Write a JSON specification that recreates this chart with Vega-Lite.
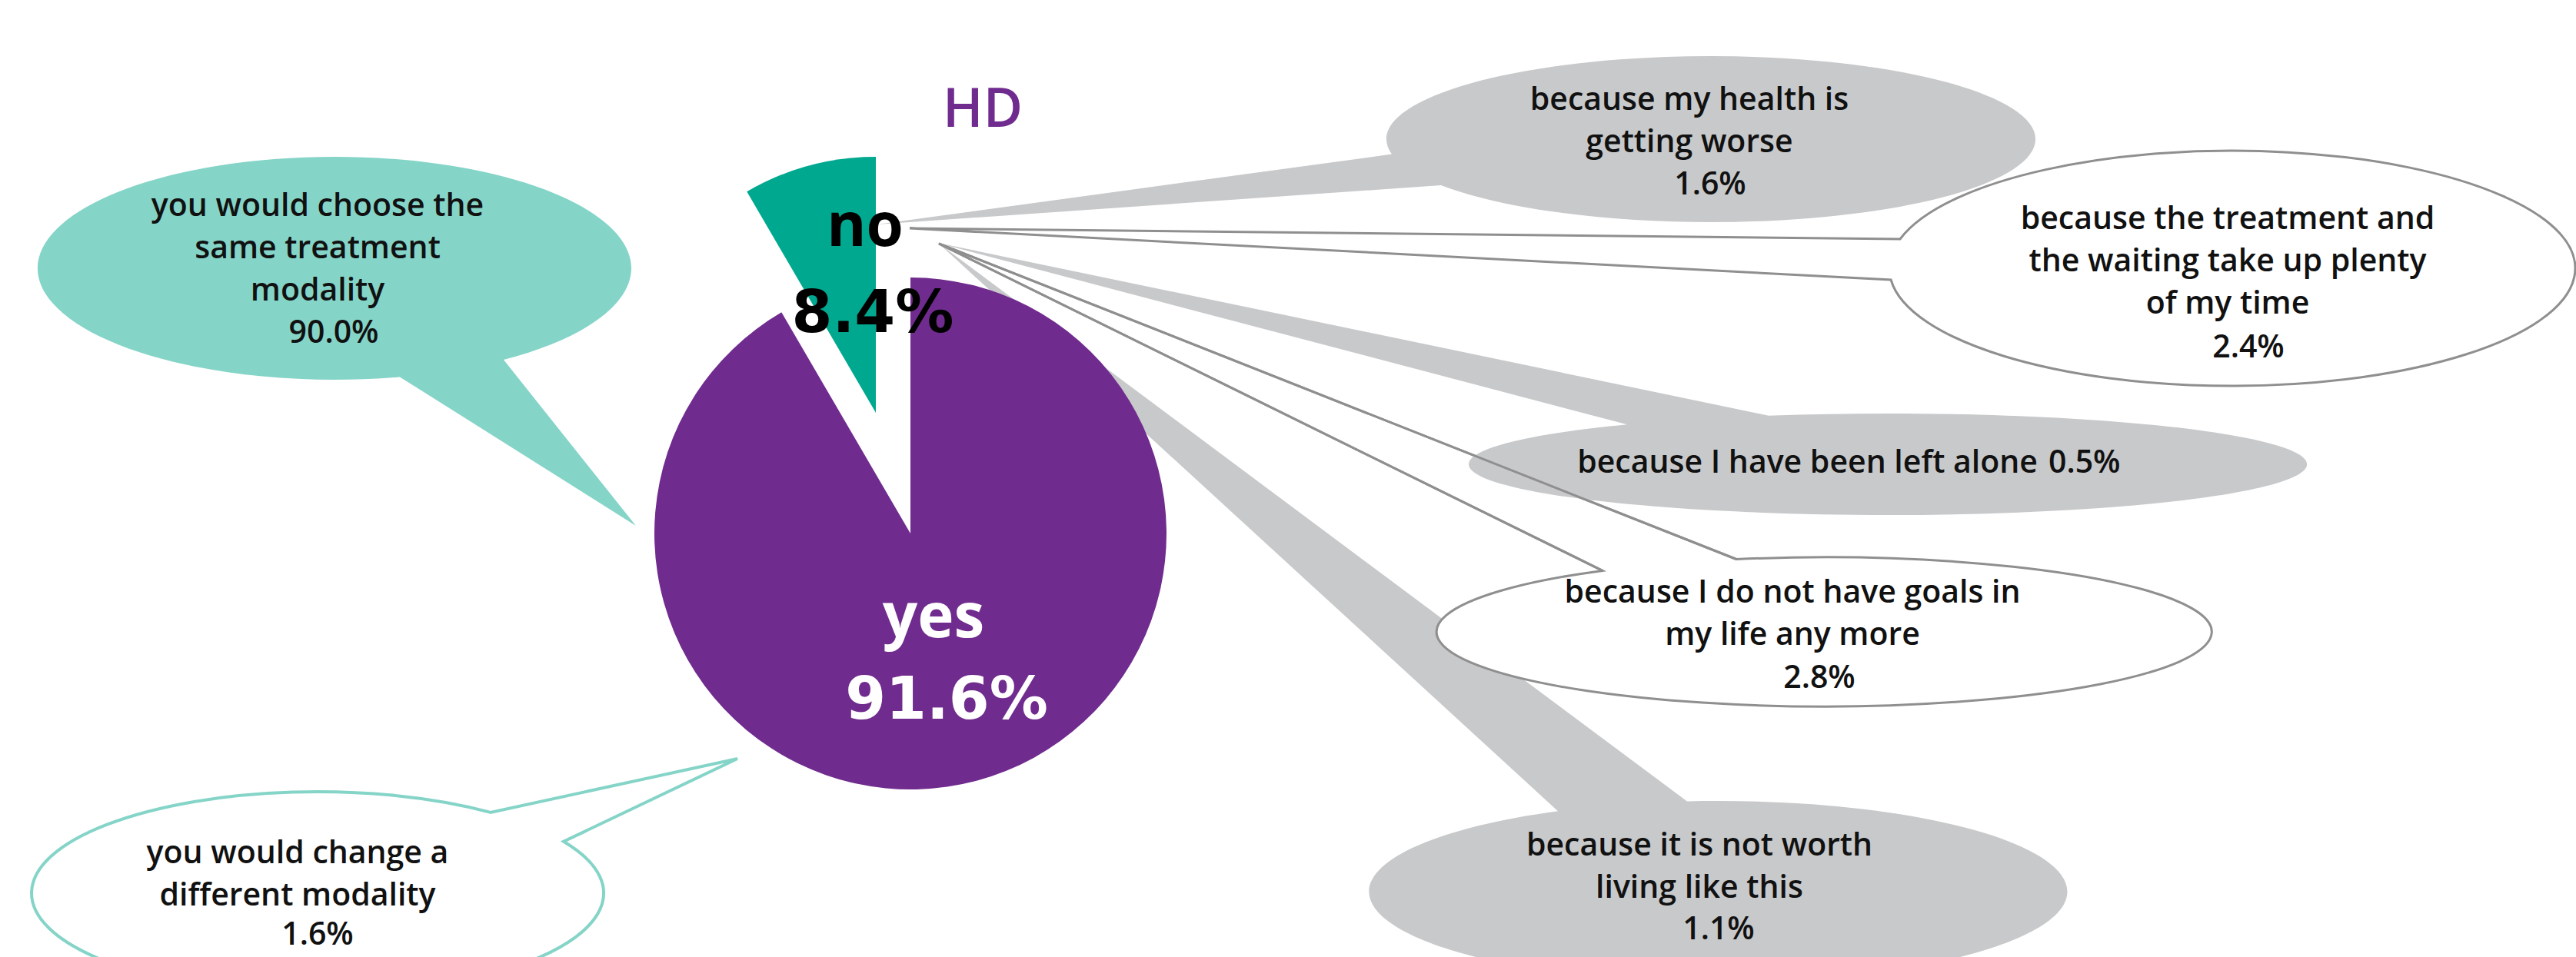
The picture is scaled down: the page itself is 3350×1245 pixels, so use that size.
{
  "$schema": "https://vega.github.io/schema/vega-lite/v6.json",
  "width": 3350,
  "height": 1245,
  "autosize": "none",
  "padding": 0,
  "background": "white",
  "config": {
    "view": {"stroke": null},
    "text": {"font": "Open Sans", "fontWeight": 600, "fontSize": 41, "lineHeight": 55, "align": "center", "baseline": "middle", "color": "#111111", "lineBreak": "\n"}
  },
  "datasets": {
    "answers": [
      {"answer": "yes", "share": 0.916},
      {"answer": "no", "share": 0.084}
    ],
    "reasons": [
      {"answer": "yes", "reason": "you would choose the\nsame treatment\nmodality", "share": 0.900},
      {"answer": "yes", "reason": "you would change a\ndifferent modality", "share": 0.016},
      {"answer": "no", "reason": "because my health is\ngetting worse", "share": 0.016},
      {"answer": "no", "reason": "because the treatment and\nthe waiting take up plenty\nof my time", "share": 0.024},
      {"answer": "no", "reason": "because I have been left alone", "share": 0.005},
      {"answer": "no", "reason": "because I do not have goals in\nmy life any more", "share": 0.028},
      {"answer": "no", "reason": "because it is not worth\nliving like this", "share": 0.011}
    ],
    "panel": [{"modality": "HD"}]
  },
  "layer": [
    {
      "data": {"name": "reasons"},
      "transform": [{"filter": "indexof(datum.reason, 'choose') >= 0"}],
      "layer": [
        {"mark": {"type": "point", "shape": "M 85 141.4 A 386 145 0 1 1 220 119.1 L 392 335 Z", "size": 4, "filled": true, "color": "#85d4c8", "opacity": 1, "strokeWidth": 0},
         "encoding": {"x": {"datum": 435, "type": "quantitative", "scale": {"domain": [0, 3350], "nice": false, "zero": false}, "axis": null}, "y": {"datum": 349, "type": "quantitative", "scale": {"domain": [0, 1245], "nice": false, "zero": false, "reverse": true}, "axis": null}}},
        {"mark": {"type": "text"},
         "encoding": {"x": {"datum": 413, "type": "quantitative", "scale": {"domain": [0, 3350], "nice": false, "zero": false}, "axis": null}, "y": {"datum": 269, "type": "quantitative", "scale": {"domain": [0, 1245], "nice": false, "zero": false, "reverse": true}, "axis": null}, "text": {"field": "reason"}}},
        {"mark": {"type": "text"},
         "encoding": {"x": {"datum": 434, "type": "quantitative", "scale": {"domain": [0, 3350], "nice": false, "zero": false}, "axis": null}, "y": {"datum": 434, "type": "quantitative", "scale": {"domain": [0, 1245], "nice": false, "zero": false, "reverse": true}, "axis": null}, "text": {"field": "share", "type": "quantitative", "format": ".1%"}}}
      ]
    },
    {
      "data": {"name": "reasons"},
      "transform": [{"filter": "indexof(datum.reason, 'change a') >= 0"}],
      "layer": [
        {"mark": {"type": "point", "shape": "M 320 -67.3 A 372 132 0 1 1 225 -105.1 L 546 -175 Z", "size": 4, "filled": true, "fill": "white", "stroke": "#85d4c8", "strokeWidth": 4, "opacity": 1},
         "encoding": {"x": {"datum": 413, "type": "quantitative", "scale": {"domain": [0, 3350], "nice": false, "zero": false}, "axis": null}, "y": {"datum": 1162, "type": "quantitative", "scale": {"domain": [0, 1245], "nice": false, "zero": false, "reverse": true}, "axis": null}}},
        {"mark": {"type": "text"},
         "encoding": {"x": {"datum": 387, "type": "quantitative", "scale": {"domain": [0, 3350], "nice": false, "zero": false}, "axis": null}, "y": {"datum": 1111, "type": "quantitative", "scale": {"domain": [0, 1245], "nice": false, "zero": false, "reverse": true}, "axis": null}, "text": {"field": "reason"}}},
        {"mark": {"type": "text"},
         "encoding": {"x": {"datum": 413, "type": "quantitative", "scale": {"domain": [0, 3350], "nice": false, "zero": false}, "axis": null}, "y": {"datum": 1217, "type": "quantitative", "scale": {"domain": [0, 1245], "nice": false, "zero": false, "reverse": true}, "axis": null}, "text": {"field": "share", "type": "quantitative", "format": ".1%"}}}
      ]
    },
    {
      "data": {"name": "reasons"},
      "transform": [{"filter": "indexof(datum.reason, 'health') >= 0"}],
      "layer": [
        {"mark": {"type": "point", "shape": "M -415 19.6 A 422 108 0 1 1 -351 60 L -1085 111 Z", "size": 4, "filled": true, "color": "#c8c9cb", "opacity": 1, "strokeWidth": 0},
         "encoding": {"x": {"datum": 2225, "type": "quantitative", "scale": {"domain": [0, 3350], "nice": false, "zero": false}, "axis": null}, "y": {"datum": 181, "type": "quantitative", "scale": {"domain": [0, 1245], "nice": false, "zero": false, "reverse": true}, "axis": null}}},
        {"mark": {"type": "text"},
         "encoding": {"x": {"datum": 2197, "type": "quantitative", "scale": {"domain": [0, 3350], "nice": false, "zero": false}, "axis": null}, "y": {"datum": 131, "type": "quantitative", "scale": {"domain": [0, 1245], "nice": false, "zero": false, "reverse": true}, "axis": null}, "text": {"field": "reason"}}},
        {"mark": {"type": "text"},
         "encoding": {"x": {"datum": 2224, "type": "quantitative", "scale": {"domain": [0, 3350], "nice": false, "zero": false}, "axis": null}, "y": {"datum": 241, "type": "quantitative", "scale": {"domain": [0, 1245], "nice": false, "zero": false, "reverse": true}, "axis": null}, "text": {"field": "share", "type": "quantitative", "format": ".1%"}}}
      ]
    },
    {
      "data": {"name": "reasons"},
      "transform": [{"filter": "indexof(datum.reason, 'waiting') >= 0"}],
      "layer": [
        {"mark": {"type": "point", "shape": "M -432 -38 A 446 153 0 1 1 -443.9 15 L -1720 -52 Z", "size": 4, "filled": true, "fill": "white", "stroke": "#8f8f8f", "strokeWidth": 3, "opacity": 1},
         "encoding": {"x": {"datum": 2903, "type": "quantitative", "scale": {"domain": [0, 3350], "nice": false, "zero": false}, "axis": null}, "y": {"datum": 349, "type": "quantitative", "scale": {"domain": [0, 1245], "nice": false, "zero": false, "reverse": true}, "axis": null}}},
        {"mark": {"type": "text"},
         "encoding": {"x": {"datum": 2897, "type": "quantitative", "scale": {"domain": [0, 3350], "nice": false, "zero": false}, "axis": null}, "y": {"datum": 286, "type": "quantitative", "scale": {"domain": [0, 1245], "nice": false, "zero": false, "reverse": true}, "axis": null}, "text": {"field": "reason"}}},
        {"mark": {"type": "text"},
         "encoding": {"x": {"datum": 2924, "type": "quantitative", "scale": {"domain": [0, 3350], "nice": false, "zero": false}, "axis": null}, "y": {"datum": 453, "type": "quantitative", "scale": {"domain": [0, 1245], "nice": false, "zero": false, "reverse": true}, "axis": null}, "text": {"field": "share", "type": "quantitative", "format": ".1%"}}}
      ]
    },
    {
      "data": {"name": "reasons"},
      "transform": [{"filter": "indexof(datum.reason, 'worth') >= 0"}],
      "layer": [
        {"mark": {"type": "point", "shape": "M -41 -117.5 A 454 118 0 1 1 -209 -104.8 L -1015 -844 Z", "size": 4, "filled": true, "color": "#c8c9cb", "opacity": 1, "strokeWidth": 0},
         "encoding": {"x": {"datum": 2235, "type": "quantitative", "scale": {"domain": [0, 3350], "nice": false, "zero": false}, "axis": null}, "y": {"datum": 1160, "type": "quantitative", "scale": {"domain": [0, 1245], "nice": false, "zero": false, "reverse": true}, "axis": null}}},
        {"mark": {"type": "text"},
         "encoding": {"x": {"datum": 2210, "type": "quantitative", "scale": {"domain": [0, 3350], "nice": false, "zero": false}, "axis": null}, "y": {"datum": 1101, "type": "quantitative", "scale": {"domain": [0, 1245], "nice": false, "zero": false, "reverse": true}, "axis": null}, "text": {"field": "reason"}}},
        {"mark": {"type": "text"},
         "encoding": {"x": {"datum": 2235, "type": "quantitative", "scale": {"domain": [0, 3350], "nice": false, "zero": false}, "axis": null}, "y": {"datum": 1210, "type": "quantitative", "scale": {"domain": [0, 1245], "nice": false, "zero": false, "reverse": true}, "axis": null}, "text": {"field": "share", "type": "quantitative", "format": ".1%"}}}
      ]
    },
    {
      "data": {"name": "reasons"},
      "transform": [{"filter": "indexof(datum.reason, 'goals') >= 0"}],
      "mark": {"type": "point", "shape": "M -114 -94.5 A 504 97 0 1 1 -288 -79.6 L -1151 -505 Z", "size": 4, "filled": true, "fill": "white", "stroke": "#8f8f8f", "strokeWidth": 3, "opacity": 1},
      "encoding": {"x": {"datum": 2372, "type": "quantitative", "scale": {"domain": [0, 3350], "nice": false, "zero": false}, "axis": null}, "y": {"datum": 822, "type": "quantitative", "scale": {"domain": [0, 1245], "nice": false, "zero": false, "reverse": true}, "axis": null}}
    },
    {
      "data": {"name": "reasons"},
      "transform": [{"filter": "indexof(datum.reason, 'left alone') >= 0"}],
      "layer": [
        {"mark": {"type": "point", "shape": "M -155 -63.3 A 545 66 0 1 1 -339 -51.7 L -1240 -289 Z", "size": 4, "filled": true, "color": "#c8c9cb", "opacity": 1, "strokeWidth": 0},
         "encoding": {"x": {"datum": 2455, "type": "quantitative", "scale": {"domain": [0, 3350], "nice": false, "zero": false}, "axis": null}, "y": {"datum": 604, "type": "quantitative", "scale": {"domain": [0, 1245], "nice": false, "zero": false, "reverse": true}, "axis": null}}},
        {"mark": {"type": "text", "align": "right"},
         "encoding": {"x": {"datum": 2650, "type": "quantitative", "scale": {"domain": [0, 3350], "nice": false, "zero": false}, "axis": null}, "y": {"datum": 603, "type": "quantitative", "scale": {"domain": [0, 1245], "nice": false, "zero": false, "reverse": true}, "axis": null}, "text": {"field": "reason"}}},
        {"mark": {"type": "text", "align": "left"},
         "encoding": {"x": {"datum": 2664, "type": "quantitative", "scale": {"domain": [0, 3350], "nice": false, "zero": false}, "axis": null}, "y": {"datum": 603, "type": "quantitative", "scale": {"domain": [0, 1245], "nice": false, "zero": false, "reverse": true}, "axis": null}, "text": {"field": "share", "type": "quantitative", "format": ".1%"}}}
      ]
    },
    {
      "data": {"name": "reasons"},
      "transform": [{"filter": "indexof(datum.reason, 'goals') >= 0"}],
      "layer": [
        {"mark": {"type": "point", "shape": "M -288 -79.6 L -1151 -505 L -114 -94.5", "size": 4, "filled": false, "color": "#8f8f8f", "strokeWidth": 3, "opacity": 1},
         "encoding": {"x": {"datum": 2372, "type": "quantitative", "scale": {"domain": [0, 3350], "nice": false, "zero": false}, "axis": null}, "y": {"datum": 822, "type": "quantitative", "scale": {"domain": [0, 1245], "nice": false, "zero": false, "reverse": true}, "axis": null}}},
        {"mark": {"type": "text"},
         "encoding": {"x": {"datum": 2331, "type": "quantitative", "scale": {"domain": [0, 3350], "nice": false, "zero": false}, "axis": null}, "y": {"datum": 772, "type": "quantitative", "scale": {"domain": [0, 1245], "nice": false, "zero": false, "reverse": true}, "axis": null}, "text": {"field": "reason"}}},
        {"mark": {"type": "text"},
         "encoding": {"x": {"datum": 2366, "type": "quantitative", "scale": {"domain": [0, 3350], "nice": false, "zero": false}, "axis": null}, "y": {"datum": 883, "type": "quantitative", "scale": {"domain": [0, 1245], "nice": false, "zero": false, "reverse": true}, "axis": null}, "text": {"field": "share", "type": "quantitative", "format": ".1%"}}}
      ]
    },
    {
      "data": {"name": "answers"},
      "transform": [
        {"stack": "share", "groupby": [], "as": ["t0", "t1"], "sort": [{"field": "answer", "order": "descending"}]},
        {"filter": "datum.answer == 'yes'"}
      ],
      "mark": {"type": "arc", "radius": 333},
      "encoding": {
        "x": {"datum": 1184, "type": "quantitative", "scale": {"domain": [0, 3350], "nice": false, "zero": false}, "axis": null},
        "y": {"datum": 694, "type": "quantitative", "scale": {"domain": [0, 1245], "nice": false, "zero": false, "reverse": true}, "axis": null},
        "theta": {"field": "t0", "type": "quantitative", "scale": {"domain": [0, 1]}},
        "theta2": {"field": "t1"},
        "color": {"field": "answer", "type": "nominal", "scale": {"domain": ["yes", "no"], "range": ["#702b8e", "#00a88f"]}, "legend": null}
      }
    },
    {
      "data": {"name": "answers"},
      "transform": [
        {"stack": "share", "groupby": [], "as": ["t0", "t1"], "sort": [{"field": "answer", "order": "descending"}]},
        {"filter": "datum.answer == 'no'"}
      ],
      "mark": {"type": "arc", "radius": 333},
      "encoding": {
        "x": {"datum": 1139, "type": "quantitative", "scale": {"domain": [0, 3350], "nice": false, "zero": false}, "axis": null},
        "y": {"datum": 537, "type": "quantitative", "scale": {"domain": [0, 1245], "nice": false, "zero": false, "reverse": true}, "axis": null},
        "theta": {"field": "t0", "type": "quantitative", "scale": {"domain": [0, 1]}},
        "theta2": {"field": "t1"},
        "color": {"field": "answer", "type": "nominal", "scale": {"domain": ["yes", "no"], "range": ["#702b8e", "#00a88f"]}, "legend": null}
      }
    },
    {
      "data": {"name": "answers"},
      "transform": [{"filter": "datum.answer == 'no'"}],
      "layer": [
        {"mark": {"type": "text", "font": "Open Sans", "fontWeight": "bold", "fontSize": 78, "color": "#000000"},
         "encoding": {"x": {"datum": 1125, "type": "quantitative", "scale": {"domain": [0, 3350], "nice": false, "zero": false}, "axis": null}, "y": {"datum": 297, "type": "quantitative", "scale": {"domain": [0, 1245], "nice": false, "zero": false, "reverse": true}, "axis": null}, "text": {"field": "answer"}}},
        {"mark": {"type": "text", "font": "DejaVu Sans", "fontWeight": "bold", "fontSize": 76, "color": "#000000"},
         "encoding": {"x": {"datum": 1135, "type": "quantitative", "scale": {"domain": [0, 3350], "nice": false, "zero": false}, "axis": null}, "y": {"datum": 409, "type": "quantitative", "scale": {"domain": [0, 1245], "nice": false, "zero": false, "reverse": true}, "axis": null}, "text": {"field": "share", "type": "quantitative", "format": ".1%"}}}
      ]
    },
    {
      "data": {"name": "answers"},
      "transform": [{"filter": "datum.answer == 'yes'"}],
      "layer": [
        {"mark": {"type": "text", "font": "Open Sans", "fontWeight": "bold", "fontSize": 80, "color": "#ffffff"},
         "encoding": {"x": {"datum": 1214, "type": "quantitative", "scale": {"domain": [0, 3350], "nice": false, "zero": false}, "axis": null}, "y": {"datum": 805, "type": "quantitative", "scale": {"domain": [0, 1245], "nice": false, "zero": false, "reverse": true}, "axis": null}, "text": {"field": "answer"}}},
        {"mark": {"type": "text", "font": "DejaVu Sans", "fontWeight": "bold", "fontSize": 76, "color": "#ffffff"},
         "encoding": {"x": {"datum": 1231, "type": "quantitative", "scale": {"domain": [0, 3350], "nice": false, "zero": false}, "axis": null}, "y": {"datum": 912, "type": "quantitative", "scale": {"domain": [0, 1245], "nice": false, "zero": false, "reverse": true}, "axis": null}, "text": {"field": "share", "type": "quantitative", "format": ".1%"}}}
      ]
    },
    {
      "data": {"name": "panel"},
      "mark": {"type": "text", "font": "Open Sans", "fontWeight": 600, "fontSize": 70, "color": "#702b8e"},
      "encoding": {"x": {"datum": 1278, "type": "quantitative", "scale": {"domain": [0, 3350], "nice": false, "zero": false}, "axis": null}, "y": {"datum": 144, "type": "quantitative", "scale": {"domain": [0, 1245], "nice": false, "zero": false, "reverse": true}, "axis": null}, "text": {"field": "modality"}}
    }
  ]
}
